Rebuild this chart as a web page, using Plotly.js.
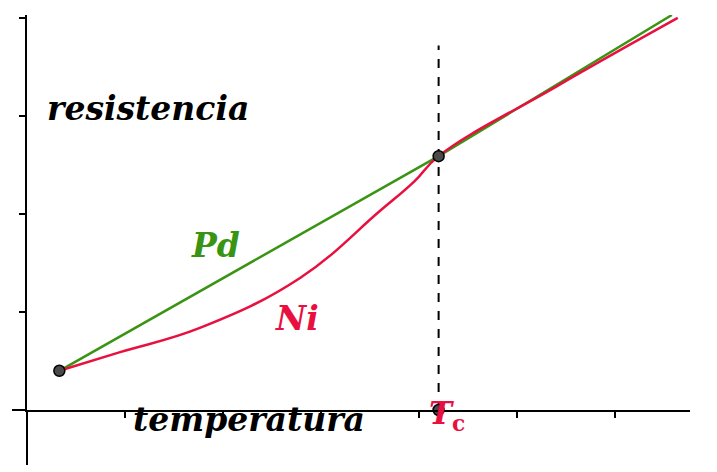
<!DOCTYPE html>
<html>
<head>
<meta charset="utf-8">
<script src="https://cdn.plot.ly/plotly-3.0.1.min.js"></script>
<style>body{margin:0;background:#fff}</style>
</head>
<body>
<div id="chart" style="width:717px;height:472px"></div>
<script>
// Curve values (1 unit = one tick step)
var pdX = [0.33, 4.2, 6.58];
var pdY = [0.40, 2.59, 4.03];
var niX = [0.33, 0.95, 1.77, 2.79, 3.6, 3.95, 4.2, 5.4, 6.64];
var niY = [0.40, 0.59, 0.84, 1.35, 2.03, 2.33, 2.59, 3.3, 4.0];
var dotX = [0.33, 4.2, 4.2];
var dotY = [0.40, 2.59, 0];
var tc = 4.2;

var green = '#3a9414';
var red = '#e8103f';
var serif = 'DejaVu Serif';

var traces = [
	{ type: 'scatter', mode: 'lines', x: pdX, y: pdY, line: { color: green, width: 2.5 }, cliponaxis: false },
	{ type: 'scatter', mode: 'lines', x: niX, y: niY, line: { color: red, width: 2.5, shape: 'spline', smoothing: 1.2 }, cliponaxis: false },
	{ type: 'scatter', mode: 'markers', x: dotX, y: dotY, cliponaxis: false,
		marker: { size: 11, color: '#4a4a4a', line: { color: '#000', width: 1.5 } } }
];

function label(text, x, y, color, yref) {
	return { text: text, x: x, y: y, xref: 'x', yref: yref || 'y', showarrow: false,
		font: { family: serif, size: 33, color: color, weight: 'bold', style: 'italic' } };
}

Plotly.newPlot('chart', traces, {
	width: 717, height: 472,
	margin: { l: 27, r: 27, t: 15, b: 62 },
	showlegend: false,
	plot_bgcolor: '#fff', paper_bgcolor: '#fff',
	xaxis: { range: [0, 6.765], showgrid: false, zeroline: false, showline: true, linewidth: 2, linecolor: '#000',
		ticks: 'outside', ticklen: 6, tickwidth: 1.5, tickcolor: '#000', tickvals: [1, 2, 3, 4, 5, 6], showticklabels: false },
	yaxis: { range: [0, 4.03], showgrid: false, zeroline: false, showline: true, linewidth: 2, linecolor: '#000',
		ticks: 'outside', ticklen: 6, tickwidth: 1.5, tickcolor: '#000', tickvals: [1, 2, 3, 4], showticklabels: false },
	shapes: [
		{ type: 'line', xref: 'paper', yref: 'paper', x0: -0.0226, x1: 0, y0: 0, y1: 0, line: { color: '#000', width: 2 } },
		{ type: 'line', xref: 'paper', yref: 'paper', x0: 0, x1: 0, y0: -0.139, y1: 0, line: { color: '#000', width: 2 } },
		{ type: 'line', xref: 'x', yref: 'y', x0: tc, x1: tc, y0: 0, y1: 3.72, layer: 'below', line: { color: '#000', width: 2, dash: 'dash' } }
	],
	annotations: [
		label('resistencia', 1.23, 3.08, '#000'),
		label('temperatura', 2.27, -0.078, '#000', 'paper'),
		label('Pd', 1.92, 1.68, green),
		label('Ni', 2.75, 0.93, red),
		{ text: '<i>T</i><sub>c</sub>', x: 4.29, y: -0.07, xref: 'x', yref: 'paper', showarrow: false,
			font: { family: serif, size: 31, color: red, weight: 'bold' } }
	]
}, { displayModeBar: false });
</script>
</body>
</html>
